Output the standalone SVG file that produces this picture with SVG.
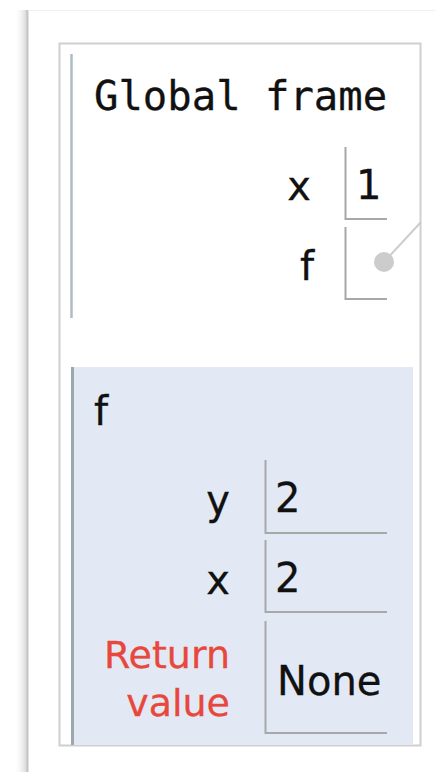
<svg xmlns="http://www.w3.org/2000/svg" width="435" height="772" viewBox="0 0 435 772">
  <defs>
    <linearGradient id="edgeShade" x1="0" y1="0" x2="1" y2="0">
      <stop offset="0" stop-color="#ffffff" stop-opacity="0"/>
      <stop offset="1" stop-color="#d4d4d4"/>
    </linearGradient>
    <style>
      .mono { font-family: "DejaVu Sans Mono", "Liberation Mono", monospace; font-size: 40.6px; fill: #111; stroke: #111; stroke-width: 0.3px; }
      .sans { font-family: "DejaVu Sans", "Liberation Sans", sans-serif; font-size: 40px; fill: #111; stroke: #111; stroke-width: 0.3px; }
      .ret { fill: #e8473c; stroke: #e8473c; font-size: 38px; }
      .slot { fill: none; stroke: #a8a8a8; stroke-width: 2; }
      .ptr { stroke: #cccccc; stroke-width: 2; fill: none; }
    </style>
  </defs>

  <rect width="435" height="772" fill="#ffffff"/>

  <!-- page edge with soft shadow -->
  <rect x="14" y="10" width="13" height="762" fill="url(#edgeShade)"/>
  <line x1="27.5" y1="10" x2="27.5" y2="772" stroke="#c4c4c4" stroke-width="2"/>
  <line x1="28" y1="10.5" x2="435" y2="10.5" stroke="#f0f0f0" stroke-width="1"/>

  <!-- outer container -->
  <rect x="59.5" y="43.5" width="361" height="702" fill="#ffffff" stroke="#cfcfcf" stroke-width="2"/>

  <!-- global frame -->
  <g id="global-frame">
    <line x1="71.5" y1="54" x2="71.5" y2="318" stroke="#aebcc4" stroke-width="2.5"/>
    <text class="mono" x="94" y="110">Global frame</text>
    <text class="sans" x="311" y="200" text-anchor="end">x</text>
    <path class="slot" d="M345.5 147 V219 H387"/>
    <text class="sans" x="356" y="199">1</text>
    <text class="sans" x="314" y="280" text-anchor="end">f</text>
    <path class="slot" d="M345.5 227 V299 H387"/>
  </g>

  <!-- function frame f -->
  <g id="frame-f">
    <rect x="71" y="367" width="342" height="378" fill="#e2e9f5"/>
    <line x1="72.5" y1="367" x2="72.5" y2="745" stroke="#9ca8ab" stroke-width="3"/>
    <text class="sans" x="94" y="425">f</text>

    <text class="sans" x="230" y="514" text-anchor="end">y</text>
    <path class="slot" d="M265.5 460 V533 H387"/>
    <text class="sans" x="275" y="512">2</text>

    <text class="sans" x="230" y="594" text-anchor="end">x</text>
    <path class="slot" d="M265.5 540 V612 H387"/>
    <text class="sans" x="275" y="592">2</text>

    <text class="sans ret" x="230" y="668" text-anchor="end">Return</text>
    <text class="sans ret" x="230" y="716" text-anchor="end">value</text>
    <path class="slot" d="M265.5 621 V733 H387"/>
    <text class="sans" x="277" y="695">None</text>
  </g>

  <!-- connectors -->
  <g id="connectors">
    <line class="ptr" x1="384" y1="262" x2="421" y2="222"/>
    <circle cx="384" cy="262" r="10" fill="#cccccc"/>
  </g>
</svg>
